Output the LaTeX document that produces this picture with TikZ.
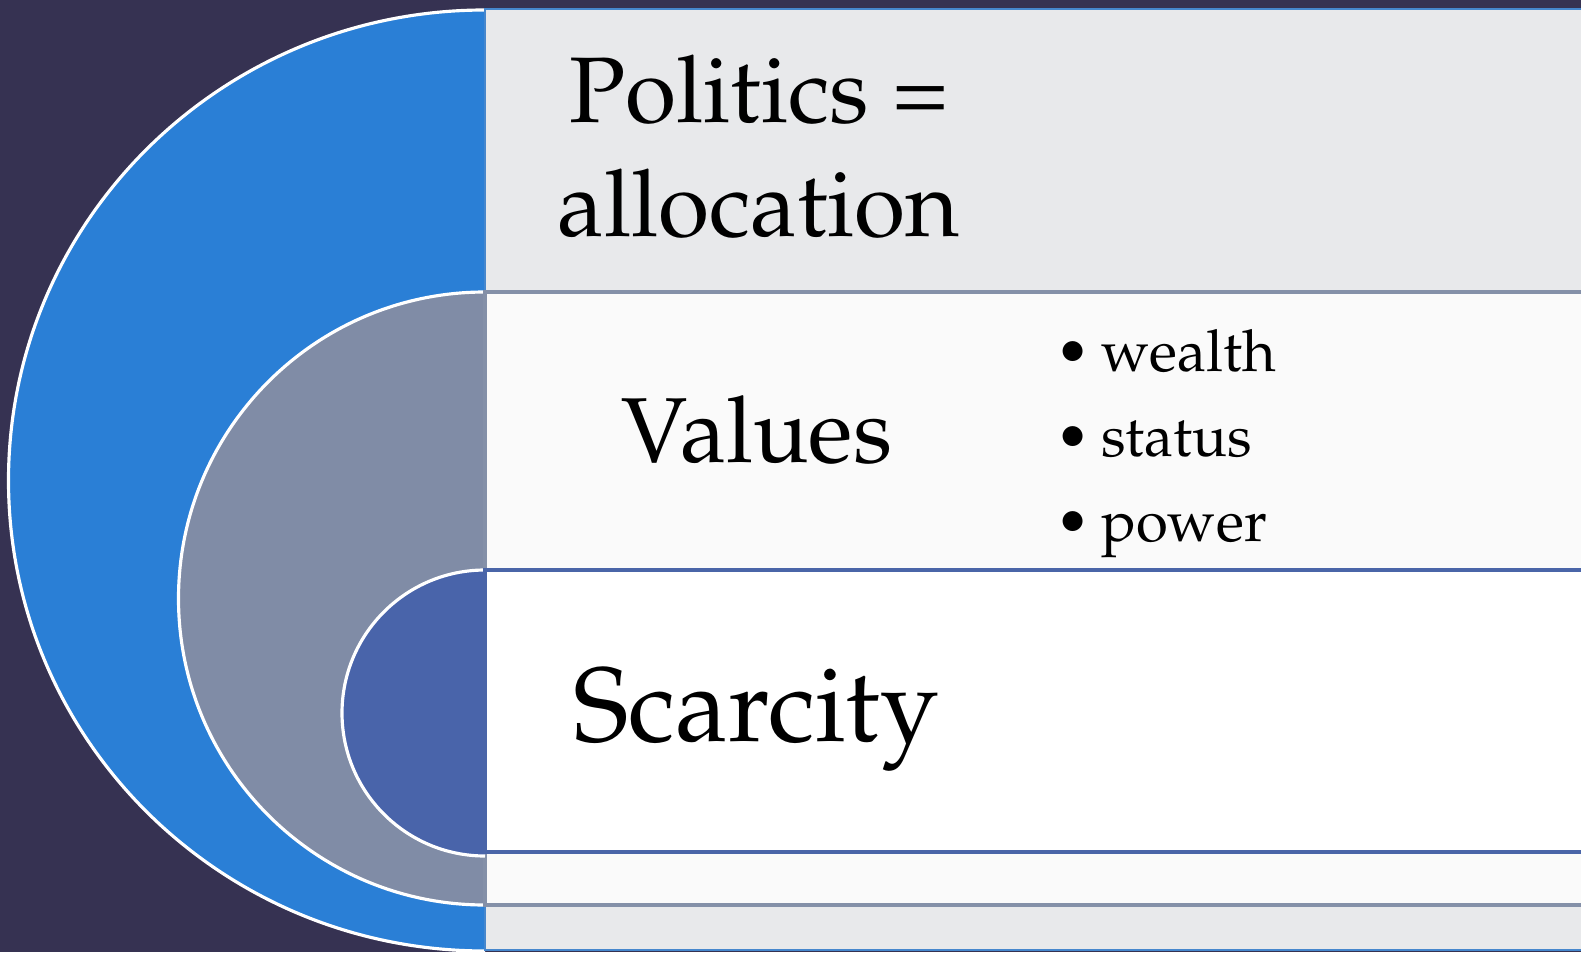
\documentclass[tikz,border=0pt]{standalone}
\usepackage[T1]{fontenc}
\usepackage{mathpazo}
\usepackage{tikz}
\usetikzlibrary{positioning}
\definecolor{slatebg}{RGB}{54,50,82}
\definecolor{outerblue}{RGB}{42,127,214}
\definecolor{midgrey}{RGB}{128,140,166}
\definecolor{innerblue}{RGB}{73,100,170}
\definecolor{outerfill}{RGB}{232,233,235}
\definecolor{midfill}{RGB}{250,250,250}
\definecolor{outerline}{RGB}{70,135,205}
\definecolor{midline}{RGB}{132,144,168}
\definecolor{innerline}{RGB}{74,101,168}
\tikzstyle{every node} = [inner sep=0]

\begin{document}
\begin{tikzpicture}
            % Frame and background
            \useasboundingbox (0,0) rectangle (31.62,19.04);
            \fill[slatebg] (0,0) rectangle (31.62,19.04);

            % Outer band
            \fill[outerblue] (9.70,18.84) arc[start angle=90, end angle=270, x radius=9.53, y radius=9.41] -- cycle;
            \draw[white, line width=1.8pt] (9.70,18.84) arc[start angle=90, end angle=270, x radius=9.53, y radius=9.41];
            \filldraw[fill=outerfill, draw=outerline, line width=1.2pt] (9.70,0.04) rectangle (31.80,18.86);

            % Middle band
            \fill[midgrey] (9.70,7.07) ++(90:6.13) arc (90:270:6.13) -- cycle;
            \draw[white, line width=1.8pt] (9.70,7.07) ++(90:6.13) arc (90:270:6.13);
            \filldraw[fill=midfill, draw=midline, line width=2pt] (9.70,0.94) rectangle (31.80,13.20);

            % Inner band
            \fill[innerblue] (9.70,4.78) ++(90:2.86) arc (90:270:2.86) -- cycle;
            \draw[white, line width=1.8pt] (9.70,4.78) ++(90:2.86) arc (90:270:2.86);
            \filldraw[fill=white, draw=innerline, line width=2pt] (9.70,2.00) rectangle (31.80,7.64);

            % Texts
            \node[align=center, font=\fontsize{53}{65}\selectfont] (politics) at (15.18,16.10) {Politics =\\allocation};
            \node[anchor=base, font=\fontsize{52.5}{62}\selectfont] (values) at (15.14,9.80) {Values};
            \node[anchor=base, font=\fontsize{60}{70}\selectfont] (scarcity) at (15.12,4.22) {Scarcity};
            \node[anchor=west, align=left, font=\fontsize{33}{48.5}\selectfont] (goods) at (21.10,10.17)
                {\makebox[0.92cm][l]{\textbullet}wealth\\ \makebox[0.92cm][l]{\textbullet}status\\ \makebox[0.92cm][l]{\textbullet}power};
        \end{tikzpicture}
\end{document}
